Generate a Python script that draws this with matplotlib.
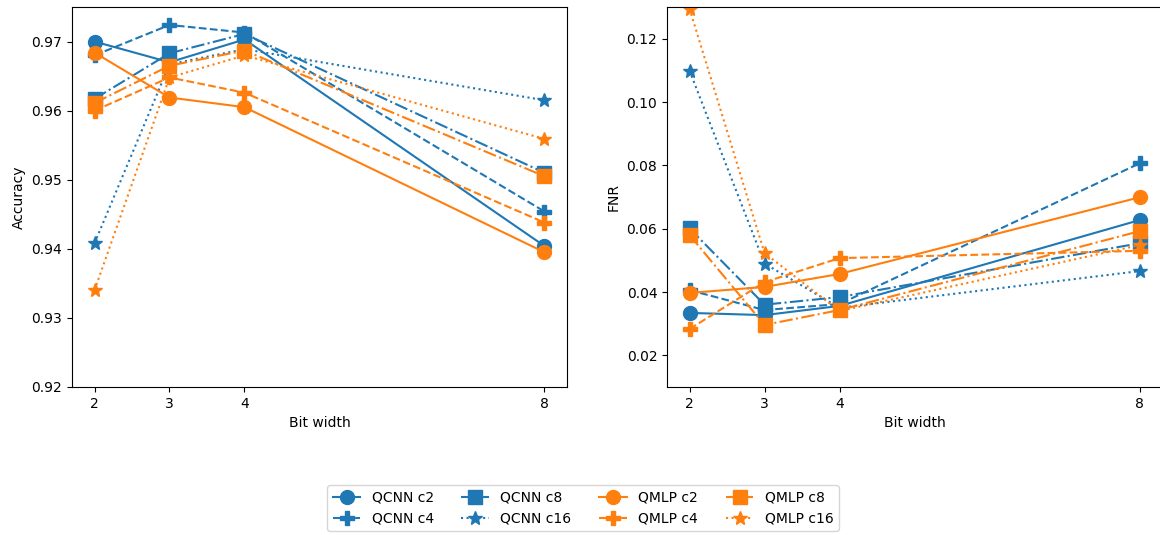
import numpy as np
import matplotlib
matplotlib.use('Agg')
import matplotlib.pyplot as plt

bits = [2, 3, 4, 8]
labels = ['QCNN c2', 'QCNN c4', 'QCNN c8', 'QCNN c16',
          'QMLP c2', 'QMLP c4', 'QMLP c8', 'QMLP c16']

# accuracy per model
acc_qcnn_c2 = [0.9700, 0.9670, 0.9703, 0.9404]
acc_qcnn_c4 = [0.9680, 0.9724, 0.9713, 0.9454]
acc_qcnn_c8 = [0.9617, 0.9683, 0.9711, 0.9510]
acc_qcnn_c16 = [0.9408, 0.9667, 0.9689, 0.9615]
acc_qmlp_c2 = [0.9684, 0.9619, 0.9605, 0.9395]
acc_qmlp_c4 = [0.9600, 0.9648, 0.9626, 0.9438]
acc_qmlp_c8 = [0.9611, 0.9665, 0.9687, 0.9505]
acc_qmlp_c16 = [0.9340, 0.9648, 0.9680, 0.9559]

# FNR per model
fnr_qcnn_c2 = [0.0334, 0.0327, 0.0356, 0.0627]
fnr_qcnn_c4 = [0.0406, 0.0343, 0.0362, 0.0806]
fnr_qcnn_c8 = [0.0601, 0.0360, 0.0384, 0.0554]
fnr_qcnn_c16 = [0.1099, 0.0490, 0.0350, 0.0466]
fnr_qmlp_c2 = [0.0397, 0.0416, 0.0457, 0.0699]
fnr_qmlp_c4 = [0.0283, 0.0431, 0.0507, 0.0530]
fnr_qmlp_c8 = [0.0580, 0.0296, 0.0343, 0.0592]
fnr_qmlp_c16 = [0.1295, 0.0523, 0.0340, 0.0548]

acc = [acc_qcnn_c2, acc_qcnn_c4, acc_qcnn_c8, acc_qcnn_c16,
       acc_qmlp_c2, acc_qmlp_c4, acc_qmlp_c8, acc_qmlp_c16]
fnr = [fnr_qcnn_c2, fnr_qcnn_c4, fnr_qcnn_c8, fnr_qcnn_c16,
       fnr_qmlp_c2, fnr_qmlp_c4, fnr_qmlp_c8, fnr_qmlp_c16]

colors = ['tab:blue'] * 4 + ['tab:orange'] * 4
styles = ['-', '--', '-.', ':'] * 2
markers = ['o', 'P', 's', '*'] * 2

W, H = 1160, 535
fig = plt.figure(figsize=(W / 100, H / 100), dpi=100)
ax_acc = fig.add_axes([72 / W, 1 - 387 / H, 495 / W, 380 / H])
ax_fnr = fig.add_axes([667 / W, 1 - 387 / H, 495 / W, 380 / H])

for i in range(8):
    ax_acc.plot(bits, acc[i], color=colors[i], linestyle=styles[i],
                marker=markers[i], markersize=10, linewidth=1.5, label=labels[i])
    ax_fnr.plot(bits, fnr[i], color=colors[i], linestyle=styles[i],
                marker=markers[i], markersize=10, linewidth=1.5)

ax_acc.set_ylim(0.92, 0.975)
ax_acc.set_yticks([0.92, 0.93, 0.94, 0.95, 0.96, 0.97])
ax_acc.set_ylabel('Accuracy')

ax_fnr.set_ylim(0.01, 0.13)
ax_fnr.set_yticks([0.02, 0.04, 0.06, 0.08, 0.10, 0.12])
ax_fnr.set_ylabel('FNR')

for ax in (ax_acc, ax_fnr):
    ax.set_xlim(1.7, 8.3)
    ax.set_xticks(bits)
    ax.set_xlabel('Bit width')

handles, labs = ax_acc.get_legend_handles_labels()
fig.legend(handles, labs, loc='center', ncol=4,
           bbox_to_anchor=(583 / W, 1 - 508 / H), fontsize=10)

fig.savefig('out.png', dpi=100)
